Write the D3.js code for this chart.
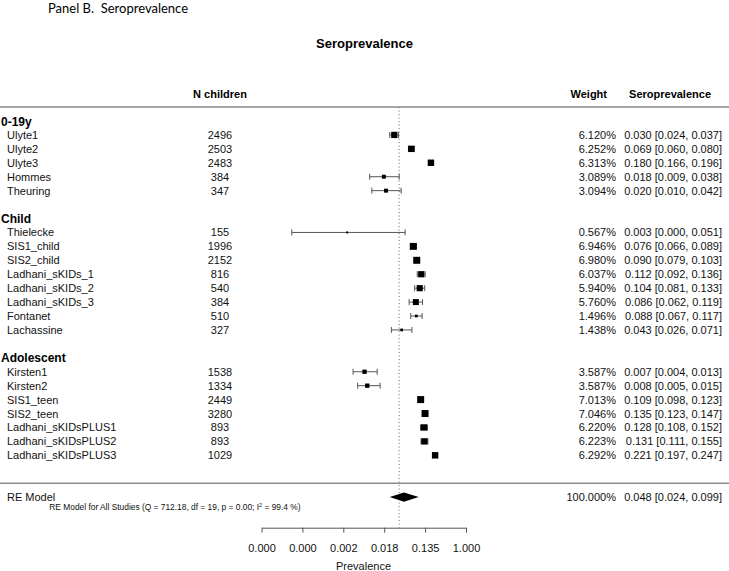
<!DOCTYPE html>
<html>
<head>
<meta charset="utf-8">
<script src="https://cdn.jsdelivr.net/npm/d3@7"></script>
<style>
    body { margin: 0; background: #fff; }
    svg { display: block; font-family: "Liberation Sans", Arial, sans-serif; }
</style>
</head>
<body>
<svg width="729" height="571"></svg>
<script>
let groups = ['0-19y', 'Child', 'Adolescent']
let studies = ['Ulyte1', 'Ulyte2', 'Ulyte3', 'Hommes', 'Theuring',
    'Thielecke', 'SIS1_child', 'SIS2_child', 'Ladhani_sKIDs_1', 'Ladhani_sKIDs_2', 'Ladhani_sKIDs_3', 'Fontanet', 'Lachassine',
    'Kirsten1', 'Kirsten2', 'SIS1_teen', 'SIS2_teen', 'Ladhani_sKIDsPLUS1', 'Ladhani_sKIDsPLUS2', 'Ladhani_sKIDsPLUS3']
let ageGroup = ['0-19y', '0-19y', '0-19y', '0-19y', '0-19y',
    'Child', 'Child', 'Child', 'Child', 'Child', 'Child', 'Child', 'Child',
    'Adolescent', 'Adolescent', 'Adolescent', 'Adolescent', 'Adolescent', 'Adolescent', 'Adolescent']
let nChildren = [2496, 2503, 2483, 384, 347, 155, 1996, 2152, 816, 540, 384, 510, 327, 1538, 1334, 2449, 3280, 893, 893, 1029]
let weights = [6.120, 6.252, 6.313, 3.089, 3.094, 0.567, 6.946, 6.980, 6.037, 5.940, 5.760, 1.496, 1.438, 3.587, 3.587, 7.013, 7.046, 6.220, 6.223, 6.292]
let prev = [0.030, 0.069, 0.180, 0.018, 0.020, 0.003, 0.076, 0.090, 0.112, 0.104, 0.086, 0.088, 0.043, 0.007, 0.008, 0.109, 0.135, 0.128, 0.131, 0.221]
let ciLow = [0.024, 0.060, 0.166, 0.009, 0.010, 0.0002, 0.066, 0.079, 0.092, 0.081, 0.062, 0.067, 0.026, 0.004, 0.005, 0.098, 0.123, 0.108, 0.111, 0.197]
let ciHigh = [0.037, 0.080, 0.196, 0.038, 0.042, 0.051, 0.089, 0.103, 0.136, 0.133, 0.119, 0.117, 0.071, 0.013, 0.015, 0.123, 0.147, 0.152, 0.155, 0.247]

let pooled = { est: 0.048, lo: 0.024, hi: 0.099, weight: 100 }
let refLine = 0.038
let logTicks = [-10, -8, -6, -4, -2, 0]
let statsText = 'RE Model for All Studies (Q = 712.18, df = 19, p = 0.00; I'

// rows: group header, its studies, a blank line between groups
let rows = []
groups.forEach((g, gi) => {
    rows.push({ type: 'header', label: g })
    studies.forEach((s, i) => {
        if (ageGroup[i] == g) rows.push({ type: 'study', i: i })
    })
    if (gi < groups.length - 1) rows.push({ type: 'blank' })
})
let reRow = rows.length + 2

let svg = d3.select('svg')
let x = d3.scaleLinear().domain([-10, 0]).range([261.5, 466])
let y = d3.scaleLinear().domain([0, 1]).range([121, 134.93])
let size = d3.scaleLinear().domain(d3.extent(weights)).range([2, 7])
let fmt = v => v.toFixed(3)
let lx = v => x(Math.log(v))

svg.append('text')
    .text('Panel B.  Seroprevalence')
    .attr('x', 48).attr('y', 12.5)
    .attr('xml:space', 'preserve')
    .style('font-family', 'Lato, "Open Sans", sans-serif')
    .style('font-size', '13px')

svg.append('text')
    .text('Seroprevalence')
    .attr('x', 364.5).attr('y', 48)
    .attr('text-anchor', 'middle')
    .style('font-size', '13px')
    .style('font-weight', 'bold')

let head = svg.append('g').style('font-size', '11px').style('font-weight', 'bold')
head.append('text').text('N children').attr('x', 220).attr('y', 98).attr('text-anchor', 'middle')
head.append('text').text('Weight').attr('x', 607).attr('y', 98).attr('text-anchor', 'end')
head.append('text').text('Seroprevalence').attr('x', 711).attr('y', 98).attr('text-anchor', 'end')

// separators
svg.selectAll('line.sep')
    .data([-1, reRow - 1])
    .enter()
    .append('line')
    .attr('class', 'sep')
    .attr('x1', 0).attr('x2', 729)
    .attr('y1', d => y(d)).attr('y2', d => y(d))
    .attr('stroke', '#8a8a8a')
    .attr('stroke-width', 1.5)

// reference line
svg.append('line')
    .attr('x1', lx(refLine)).attr('x2', lx(refLine))
    .attr('y1', y(-1)).attr('y2', 527.7)
    .attr('stroke', '#666')
    .attr('stroke-dasharray', '1,2.5')

svg.selectAll('text.group')
    .data(rows.map((r, k) => ({ r: r, k: k })).filter(d => d.r.type == 'header'))
    .enter()
    .append('text')
    .attr('class', 'group')
    .text(d => d.r.label)
    .attr('x', 1)
    .attr('y', d => y(d.k) + 4.5)
    .style('font-size', '12px')
    .style('font-weight', 'bold')

let studyRows = rows.map((r, k) => ({ r: r, k: k })).filter(d => d.r.type == 'study')
    .map(d => ({ i: d.r.i, yy: y(d.k) }))

let g = svg.append('g').style('font-size', '11px').attr('fill', '#111')

g.selectAll('text.name').data(studyRows).enter().append('text')
    .text(d => studies[d.i]).attr('x', 7).attr('y', d => d.yy + 4)
g.selectAll('text.n').data(studyRows).enter().append('text')
    .text(d => nChildren[d.i]).attr('x', 220).attr('y', d => d.yy + 4).attr('text-anchor', 'middle')
g.selectAll('text.w').data(studyRows).enter().append('text')
    .text(d => weights[d.i].toFixed(3) + '%').attr('x', 616).attr('y', d => d.yy + 4).attr('text-anchor', 'end')
g.selectAll('text.est').data(studyRows).enter().append('text')
    .text(d => fmt(prev[d.i]) + ' [' + fmt(ciLow[d.i]) + ', ' + fmt(ciHigh[d.i]) + ']')
    .attr('x', 722).attr('y', d => d.yy + 4).attr('text-anchor', 'end')

// whiskers and caps
let ci = svg.append('g').attr('stroke', '#555').attr('stroke-width', 1)
ci.selectAll('line.ci').data(studyRows).enter().append('line')
    .attr('x1', d => lx(ciLow[d.i])).attr('x2', d => lx(ciHigh[d.i]))
    .attr('y1', d => d.yy).attr('y2', d => d.yy)
ci.selectAll('line.capl').data(studyRows).enter().append('line')
    .attr('x1', d => lx(ciLow[d.i])).attr('x2', d => lx(ciLow[d.i]))
    .attr('y1', d => d.yy - 3).attr('y2', d => d.yy + 3)
ci.selectAll('line.caph').data(studyRows).enter().append('line')
    .attr('x1', d => lx(ciHigh[d.i])).attr('x2', d => lx(ciHigh[d.i]))
    .attr('y1', d => d.yy - 3).attr('y2', d => d.yy + 3)

svg.selectAll('rect.box').data(studyRows).enter().append('rect')
    .attr('class', 'box')
    .attr('x', d => lx(prev[d.i]) - size(weights[d.i]) / 2)
    .attr('y', d => d.yy - size(weights[d.i]) / 2)
    .attr('width', d => size(weights[d.i]))
    .attr('height', d => size(weights[d.i]))
    .attr('fill', '#000')

// pooled estimate
let ry = y(reRow)
svg.append('polygon')
    .attr('points', [[lx(pooled.lo), ry], [lx(pooled.est), ry - 4.7], [lx(pooled.hi), ry], [lx(pooled.est), ry + 4.7]].join(' '))
    .attr('fill', '#000')
g.append('text').text('RE Model').attr('x', 7).attr('y', ry + 3.5)
g.append('text').text(pooled.weight.toFixed(3) + '%').attr('x', 616).attr('y', ry + 4).attr('text-anchor', 'end')
g.append('text').text(fmt(pooled.est) + ' [' + fmt(pooled.lo) + ', ' + fmt(pooled.hi) + ']')
    .attr('x', 722).attr('y', ry + 4).attr('text-anchor', 'end')

let st = svg.append('text').attr('x', 49.3).attr('y', ry + 12.5).style('font-size', '8.4px').attr('fill', '#111')
st.append('tspan').text(statsText)
st.append('tspan').text('2').attr('dy', -3).style('font-size', '5.5px')
st.append('tspan').text(' = 99.4 %)').attr('dy', 3)

// axis
let axis = svg.append('g')
    .attr('transform', 'translate(0,527.7)')
    .call(d3.axisBottom(x).tickValues(logTicks).tickSize(5).tickSizeOuter(0).tickPadding(12)
        .tickFormat(v => fmt(Math.exp(v))))
axis.selectAll('path, line').attr('stroke', '#555')
axis.selectAll('text').style('font-size', '11px').style('font-family', '"Liberation Sans", Arial, sans-serif').attr('fill', '#111')

svg.append('text')
    .text('Prevalence')
    .attr('x', 363.5).attr('y', 570)
    .attr('text-anchor', 'middle')
    .style('font-size', '11px')
    .attr('fill', '#111')
</script>
</body>
</html>
